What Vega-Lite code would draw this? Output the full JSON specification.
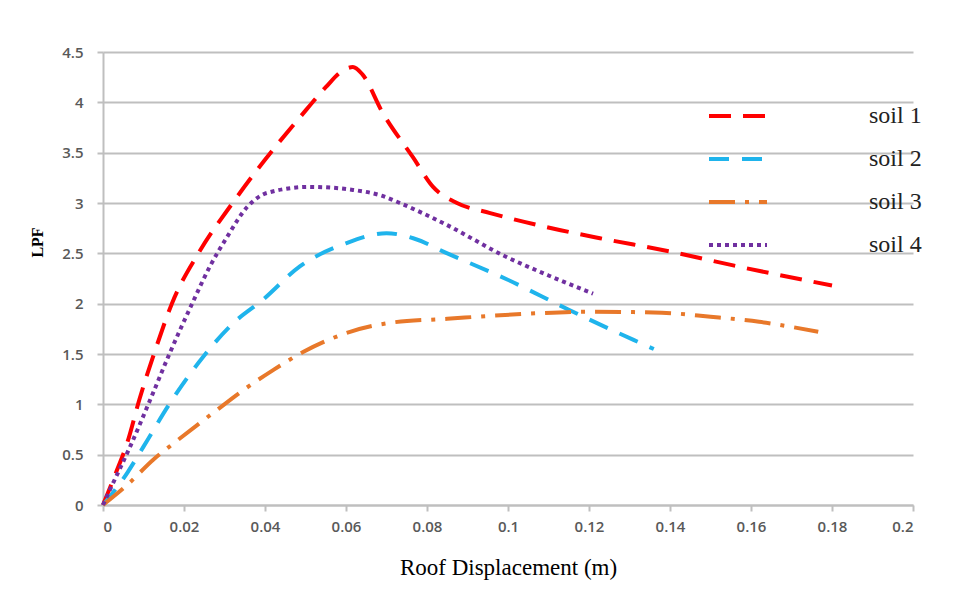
{
  "$schema": "https://vega.github.io/schema/vega-lite/v6.json",
  "autosize": "none",
  "width": 810,
  "height": 453,
  "padding": {"left": 103, "top": 52, "right": 61, "bottom": 85},
  "background": "white",
  "config": {
    "view": {"stroke": null},
    "axis": {
      "labelFont": "Open Sans",
      "labelFontSize": 15,
      "labelFontWeight": 600,
      "labelColor": "#595959",
      "domainColor": "#BFBFBF",
      "domainWidth": 2,
      "tickColor": "#BFBFBF",
      "tickWidth": 2,
      "tickSize": 6,
      "gridColor": "#BFBFBF",
      "gridWidth": 2
    }
  },
  "data": {
    "values": [
      {"soil": "soil 1", "d": 0, "lpf": 0},
      {"soil": "soil 1", "d": 0.003, "lpf": 0.3},
      {"soil": "soil 1", "d": 0.006, "lpf": 0.62},
      {"soil": "soil 1", "d": 0.009, "lpf": 1.05},
      {"soil": "soil 1", "d": 0.013, "lpf": 1.55},
      {"soil": "soil 1", "d": 0.017, "lpf": 2.0},
      {"soil": "soil 1", "d": 0.024, "lpf": 2.53},
      {"soil": "soil 1", "d": 0.032, "lpf": 3.0},
      {"soil": "soil 1", "d": 0.04, "lpf": 3.43},
      {"soil": "soil 1", "d": 0.0486, "lpf": 3.85},
      {"soil": "soil 1", "d": 0.055, "lpf": 4.15},
      {"soil": "soil 1", "d": 0.059, "lpf": 4.31},
      {"soil": "soil 1", "d": 0.0617, "lpf": 4.35},
      {"soil": "soil 1", "d": 0.064, "lpf": 4.28},
      {"soil": "soil 1", "d": 0.069, "lpf": 3.9},
      {"soil": "soil 1", "d": 0.0766, "lpf": 3.45},
      {"soil": "soil 1", "d": 0.0815, "lpf": 3.16},
      {"soil": "soil 1", "d": 0.0874, "lpf": 3.0},
      {"soil": "soil 1", "d": 0.0956, "lpf": 2.9},
      {"soil": "soil 1", "d": 0.113, "lpf": 2.73},
      {"soil": "soil 1", "d": 0.1227, "lpf": 2.65},
      {"soil": "soil 1", "d": 0.141, "lpf": 2.51},
      {"soil": "soil 1", "d": 0.1556, "lpf": 2.38},
      {"soil": "soil 1", "d": 0.18, "lpf": 2.18},

      {"soil": "soil 2", "d": 0, "lpf": 0},
      {"soil": "soil 2", "d": 0.006, "lpf": 0.32},
      {"soil": "soil 2", "d": 0.01, "lpf": 0.58},
      {"soil": "soil 2", "d": 0.0165, "lpf": 1.01},
      {"soil": "soil 2", "d": 0.0247, "lpf": 1.47},
      {"soil": "soil 2", "d": 0.032, "lpf": 1.8},
      {"soil": "soil 2", "d": 0.0395, "lpf": 2.04},
      {"soil": "soil 2", "d": 0.0486, "lpf": 2.37},
      {"soil": "soil 2", "d": 0.06, "lpf": 2.6},
      {"soil": "soil 2", "d": 0.07, "lpf": 2.7},
      {"soil": "soil 2", "d": 0.0766, "lpf": 2.65},
      {"soil": "soil 2", "d": 0.085, "lpf": 2.5},
      {"soil": "soil 2", "d": 0.0998, "lpf": 2.24},
      {"soil": "soil 2", "d": 0.115, "lpf": 1.94},
      {"soil": "soil 2", "d": 0.131, "lpf": 1.64},
      {"soil": "soil 2", "d": 0.136, "lpf": 1.55},

      {"soil": "soil 3", "d": 0, "lpf": 0},
      {"soil": "soil 3", "d": 0.006, "lpf": 0.2},
      {"soil": "soil 3", "d": 0.0124, "lpf": 0.45},
      {"soil": "soil 3", "d": 0.018, "lpf": 0.63},
      {"soil": "soil 3", "d": 0.028, "lpf": 0.94},
      {"soil": "soil 3", "d": 0.0346, "lpf": 1.14},
      {"soil": "soil 3", "d": 0.042, "lpf": 1.34},
      {"soil": "soil 3", "d": 0.0494, "lpf": 1.52},
      {"soil": "soil 3", "d": 0.061, "lpf": 1.72},
      {"soil": "soil 3", "d": 0.0709, "lpf": 1.81},
      {"soil": "soil 3", "d": 0.085, "lpf": 1.85},
      {"soil": "soil 3", "d": 0.1047, "lpf": 1.9},
      {"soil": "soil 3", "d": 0.1195, "lpf": 1.92},
      {"soil": "soil 3", "d": 0.138, "lpf": 1.91},
      {"soil": "soil 3", "d": 0.15, "lpf": 1.87},
      {"soil": "soil 3", "d": 0.162, "lpf": 1.82},
      {"soil": "soil 3", "d": 0.1766, "lpf": 1.72},

      {"soil": "soil 4", "d": 0, "lpf": 0},
      {"soil": "soil 4", "d": 0.0017, "lpf": 0.15},
      {"soil": "soil 4", "d": 0.0067, "lpf": 0.58},
      {"soil": "soil 4", "d": 0.0116, "lpf": 1.04},
      {"soil": "soil 4", "d": 0.0165, "lpf": 1.51},
      {"soil": "soil 4", "d": 0.022, "lpf": 2.0},
      {"soil": "soil 4", "d": 0.0264, "lpf": 2.37},
      {"soil": "soil 4", "d": 0.0306, "lpf": 2.66},
      {"soil": "soil 4", "d": 0.0356, "lpf": 2.96},
      {"soil": "soil 4", "d": 0.0405, "lpf": 3.1},
      {"soil": "soil 4", "d": 0.051, "lpf": 3.16},
      {"soil": "soil 4", "d": 0.0617, "lpf": 3.13},
      {"soil": "soil 4", "d": 0.069, "lpf": 3.07},
      {"soil": "soil 4", "d": 0.0733, "lpf": 3.0},
      {"soil": "soil 4", "d": 0.085, "lpf": 2.78},
      {"soil": "soil 4", "d": 0.0988, "lpf": 2.48},
      {"soil": "soil 4", "d": 0.11, "lpf": 2.28},
      {"soil": "soil 4", "d": 0.121, "lpf": 2.1}
    ]
  },
  "mark": {"type": "line", "strokeWidth": 4, "interpolate": "monotone"},
  "encoding": {
    "x": {
      "field": "d", "type": "quantitative",
      "scale": {"domain": [0, 0.2], "nice": false},
      "axis": {
        "values": [0, 0.02, 0.04, 0.06, 0.08, 0.1, 0.12, 0.14, 0.16, 0.18, 0.2],
        "format": "~g",
        "grid": false,
        "labelPadding": 8,
        "title": "Roof Displacement (m)",
        "titleFont": "Liberation Serif",
        "titleFontSize": 23,
        "titleFontWeight": "normal",
        "titleColor": "#000000",
        "titlePadding": 22
      }
    },
    "y": {
      "field": "lpf", "type": "quantitative",
      "scale": {"domain": [0, 4.5], "nice": false},
      "axis": {
        "values": [0, 0.5, 1, 1.5, 2, 2.5, 3, 3.5, 4, 4.5],
        "format": "~g",
        "grid": true,
        "labelPadding": 14,
        "title": "LPF",
        "titleFont": "Liberation Serif",
        "titleFontSize": 16,
        "titleFontWeight": "bold",
        "titleColor": "#000000",
        "titleX": -58,
        "titleY": 190
      }
    },
    "color": {
      "field": "soil", "type": "nominal",
      "scale": {"domain": ["soil 1", "soil 2", "soil 3", "soil 4"], "range": ["#FF0000", "#1FB4EC", "#E8782A", "#7030A0"]},
      "legend": {
        "title": null,
        "orient": "none",
        "legendX": 604,
        "legendY": 33,
        "symbolType": "stroke",
        "symbolSize": 3364,
        "symbolStrokeWidth": 4,
        "labelFont": "Liberation Serif",
        "labelFontSize": 24,
        "labelColor": "#222222",
        "labelOffset": 100,
        "rowPadding": 0
      }
    },
    "strokeDash": {
      "field": "soil", "type": "nominal",
      "scale": {"domain": ["soil 1", "soil 2", "soil 3", "soil 4"], "range": [[22, 12], [20, 13], [26, 10, 4, 10], [4, 4]]},
      "legend": null
    }
  }
}
